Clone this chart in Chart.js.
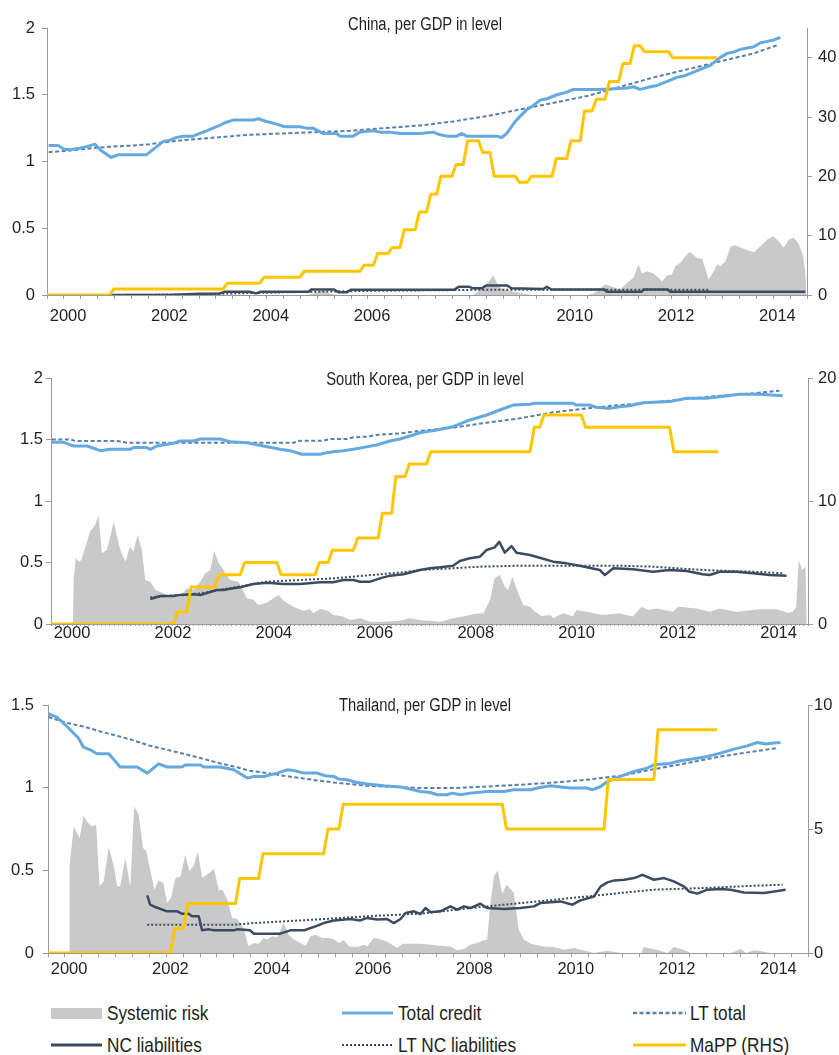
<!DOCTYPE html>
<html><head><meta charset="utf-8">
<script src="https://cdn.jsdelivr.net/npm/chart.js@4.4.0/dist/chart.umd.min.js"></script>
<style>
html,body{margin:0;padding:0;background:#fff;}
body{width:839px;height:1055px;position:relative;overflow:hidden;font-family:'Liberation Sans',Arial,sans-serif;color:#231f20;}
canvas{position:absolute;left:0;}
.title{position:absolute;left:425px;transform:translateX(-50%) scaleX(0.82);transform-origin:center center;font-size:18px;line-height:20px;white-space:nowrap;}
.lg{position:absolute;font-size:21px;line-height:24px;white-space:nowrap;transform:scaleX(0.82);transform-origin:left center;}
svg{position:absolute;left:0;}
</style></head><body>
<canvas id="c1" width="839" height="325" style="top:0px"></canvas>
<canvas id="c2" width="839" height="330" style="top:325px"></canvas>
<canvas id="c3" width="839" height="330" style="top:655px"></canvas>
<div class="title" style="top:14px">China, per GDP in level</div>
<div class="title" style="top:369px">South Korea, per GDP in level</div>
<div class="title" style="top:695px">Thailand, per GDP in level</div>
<svg width="839" height="60" style="top:995px">
  <rect x="51" y="13" width="51" height="11" fill="#C9C9C9"/>
  <line x1="342" y1="18" x2="393" y2="18" stroke="#64A9DF" stroke-width="3"/>
  <line x1="633" y1="18" x2="686" y2="18" stroke="#5B7FA6" stroke-width="2.5" stroke-dasharray="4 2.5"/>
  <line x1="51" y1="50" x2="102" y2="50" stroke="#3D4B60" stroke-width="3"/>
  <line x1="342" y1="50" x2="393" y2="50" stroke="#3D4B60" stroke-width="2" stroke-dasharray="2 2"/>
  <line x1="633" y1="50" x2="686" y2="50" stroke="#FFC600" stroke-width="3"/>
</svg>
<div class="lg" style="left:107px;top:1001px">Systemic risk</div>
<div class="lg" style="left:398px;top:1001px">Total credit</div>
<div class="lg" style="left:690px;top:1001px">LT total</div>
<div class="lg" style="left:107px;top:1033px">NC liabilities</div>
<div class="lg" style="left:398px;top:1033px">LT NC liabilities</div>
<div class="lg" style="left:690px;top:1033px">MaPP (RHS)</div>
<script>
// x values: months since January 2000; y values
const yearLabels = ['2000','2002','2004','2006','2008','2010','2012','2014'];

// ---------- China ----------
const cnCredit = [[-3.6,1.12],[-1.4,1.12],[0.2,1.09],[1.8,1.09],[3.7,1.10],[5.3,1.11],[7.3,1.13],[8.9,1.08],[11.2,1.03],[12.8,1.05],[19.5,1.05],[21.9,1.11],[23.5,1.15],[25.1,1.16],[26.7,1.18],[28.2,1.19],[30.6,1.19],[32.2,1.21],[33.8,1.23],[35.3,1.25],[36.9,1.27],[38.1,1.29],[40.1,1.31],[44.8,1.31],[46.0,1.32],[48.0,1.30],[50.4,1.28],[52.3,1.26],[55.9,1.26],[57.4,1.25],[59.0,1.25],[61.4,1.21],[64.6,1.21],[65.4,1.19],[68.5,1.19],[70.1,1.22],[73.3,1.23],[74.9,1.22],[77.2,1.22],[79.6,1.21],[84.4,1.21],[87.5,1.22],[89.1,1.20],[90.7,1.19],[93.1,1.19],[94.2,1.21],[95.4,1.19],[100.2,1.19],[102.5,1.19],[103.7,1.18],[104.9,1.21],[106.9,1.30],[108.1,1.34],[109.7,1.39],[111.2,1.42],[112.8,1.46],[114.4,1.47],[116.8,1.50],[119.1,1.52],[120.7,1.54],[127.0,1.54],[133.4,1.55],[134.9,1.56],[136.5,1.54],[138.9,1.56],[140.5,1.57],[142.9,1.60],[145.2,1.63],[146.8,1.64],[150.0,1.68],[153.1,1.72],[155.5,1.78],[157.1,1.81],[158.6,1.82],[160.2,1.84],[161.8,1.85],[163.4,1.86],[165.0,1.89],[166.6,1.90],[168.1,1.91],[169.7,1.93]];
const cnLTTotal = [[-3.6,1.07],[0.6,1.08],[6.9,1.10],[10.8,1.11],[16.4,1.12],[20.3,1.13],[28.2,1.16],[36.1,1.18],[44.0,1.20],[51.9,1.21],[59.9,1.22],[67.7,1.23],[75.6,1.25],[84.4,1.27],[92.2,1.30],[100.2,1.34],[108.1,1.39],[116.0,1.44],[123.9,1.49],[131.8,1.56],[139.7,1.63],[147.6,1.69],[155.5,1.75],[163.4,1.81],[169.3,1.875]];
const cnNC = [[11,0.0],[25,0.0],[32,0.01],[37,0.012],[38,0.024],[44,0.024],[45.5,0.012],[46.5,0.024],[58,0.024],[58.5,0.041],[64,0.041],[65,0.02],[67,0.02],[68,0.04],[92.5,0.04],[93.5,0.061],[96,0.061],[97,0.05],[99,0.05],[100,0.071],[105,0.071],[106,0.05],[113.5,0.045],[114.4,0.061],[115.5,0.041],[128,0.041],[128.6,0.024],[136.8,0.024],[137.3,0.041],[143,0.041],[143.6,0.024],[175.6,0.024]];
const cnLTNC = [[11,0.0],[30,0.005],[45,0.015],[60,0.025],[75,0.032],[90,0.036],[100,0.04],[152.6,0.04]];
const cnRisk = [[-4,0],[58,0],[60,0.02],[61.5,0.035],[63,0.01],[65,0],[97,0],[99.8,0.066],[101.7,0.146],[102.9,0.066],[104.1,0.04],[108.1,0.016],[110.4,0],[124,0],[125.4,0.01],[128.2,0.079],[131.8,0.041],[133.4,0.091],[134.9,0.129],[136.1,0.228],[136.9,0.161],[138.1,0.178],[139.7,0.161],[141.7,0.103],[142.9,0.146],[144.0,0.153],[144.8,0.216],[146.0,0.241],[147.6,0.303],[148.3,0.323],[150.0,0.275],[151.2,0.271],[152.7,0.116],[153.9,0.178],[154.7,0.228],[155.5,0.216],[156.7,0.253],[157.9,0.361],[159.0,0.373],[161.4,0.341],[163.4,0.32],[165.0,0.365],[166.6,0.415],[168.0,0.44],[169.3,0.403],[170.5,0.353],[171.7,0.415],[172.9,0.428],[174.1,0.378],[175.1,0.29],[175.6,0.166],[175.9,0]];
const cnMaPP = [[-4,0],[10.8,0],[11.8,1],[37.7,1],[38.7,2],[46.4,2],[47.4,3],[55.9,3],[56.9,4],[70.1,4],[71.1,5],[73.3,5],[74.3,7],[76.8,7],[77.8,8],[79.6,8],[80.6,11],[83.2,11],[84.2,14],[85.9,14],[86.9,17],[88.3,17],[89.3,20],[91.9,20],[92.9,22],[94.6,22],[95.6,26],[98.2,26],[99.2,24],[100.9,24],[101.9,20],[106.9,20],[107.9,19],[109.7,19],[110.7,20],[115.6,20],[116.6,23],[119.1,23],[120.1,26],[122.3,26],[123.3,31],[125.1,31],[126.1,33],[128.2,33],[129.2,36],[131.4,36],[132.4,39],[134.1,39],[135.1,42],[136.5,42],[137.5,41],[143.2,41],[144.2,40],[154.7,40]];

// ---------- South Korea ----------
const krCredit = [[-3.8,1.477],[-1.0,1.477],[1.4,1.447],[4.6,1.447],[7.7,1.409],[10.1,1.42],[14.8,1.42],[15.6,1.434],[18.8,1.434],[19.6,1.42],[21.2,1.447],[25.1,1.469],[26.7,1.488],[29.9,1.488],[31.5,1.504],[36.2,1.504],[38.6,1.482],[42.6,1.474],[46.5,1.447],[50.5,1.42],[52.9,1.409],[55.6,1.38],[60.0,1.38],[61.6,1.393],[63.1,1.401],[65.5,1.409],[67.9,1.42],[70.3,1.436],[73.4,1.455],[76.6,1.488],[79.0,1.504],[82.1,1.537],[83.7,1.555],[87.7,1.577],[91.6,1.604],[95.6,1.659],[99.6,1.699],[102.7,1.74],[105.9,1.78],[109.9,1.786],[111.0,1.794],[120.1,1.794],[120.9,1.78],[124.1,1.78],[125.7,1.762],[128.9,1.753],[131.2,1.767],[133.6,1.775],[136.8,1.799],[143.1,1.808],[147.1,1.835],[151.8,1.835],[155.0,1.848],[159.7,1.867],[164.5,1.867],[170.0,1.856]];
const krLTTotal = [[-3.8,1.50],[0.6,1.50],[1.8,1.488],[11.7,1.488],[14.1,1.474],[53.6,1.474],[55.2,1.49],[60.8,1.49],[62.3,1.504],[66.3,1.504],[67.9,1.518],[71.1,1.523],[73.4,1.537],[79.0,1.55],[83.7,1.57],[91.6,1.596],[99.6,1.637],[107.5,1.672],[115.4,1.721],[123.3,1.753],[131.2,1.78],[139.1,1.802],[147.1,1.829],[155.0,1.856],[162.9,1.875],[169.2,1.897]];
const krNC = [[19.6,0.203],[22.0,0.228],[25.1,0.228],[26.7,0.236],[29.9,0.241],[31.5,0.236],[35.4,0.276],[37.0,0.276],[38.6,0.287],[41.0,0.298],[44.1,0.325],[47.3,0.336],[51.3,0.325],[55.2,0.325],[60.0,0.339],[63.1,0.339],[65.5,0.358],[67.9,0.358],[69.5,0.344],[71.9,0.344],[74.2,0.371],[76.6,0.393],[79.8,0.404],[83.7,0.439],[86.1,0.453],[88.5,0.461],[91.6,0.474],[93.2,0.512],[95.6,0.534],[98.0,0.547],[99.6,0.602],[101.5,0.623],[102.6,0.669],[103.9,0.58],[105.5,0.634],[106.7,0.58],[109.9,0.561],[112.2,0.539],[115.4,0.507],[118.6,0.493],[121.7,0.474],[126.5,0.439],[127.7,0.398],[129.7,0.453],[134.4,0.445],[139.1,0.425],[143.1,0.439],[147.1,0.431],[151.0,0.404],[152.6,0.398],[155.0,0.425],[159.0,0.425],[162.9,0.412],[166.9,0.398],[170.9,0.393]];
const krLTNC = [[19.6,0.217],[31.5,0.249],[47.3,0.344],[63.1,0.371],[79.5,0.42],[83.7,0.439],[91.6,0.453],[98.0,0.466],[107.5,0.474],[131.2,0.474],[139.1,0.466],[151.0,0.439],[162.9,0.425],[170.0,0.412]];
const krRisk = [[1.2,0],[1.4,0.371],[1.9,0.534],[2.7,0.507],[3.2,0.52],[5.3,0.75],[6.5,0.805],[7.3,0.886],[8.1,0.575],[9.3,0.602],[10.9,0.832],[12.5,0.602],[13.7,0.507],[14.8,0.628],[15.6,0.589],[16.6,0.724],[17.6,0.602],[18.4,0.358],[19.6,0.344],[20.8,0.276],[22.8,0.249],[24.3,0.22],[26.7,0.22],[28.3,0.29],[29.9,0.276],[31.5,0.344],[32.7,0.412],[33.9,0.439],[34.8,0.596],[35.9,0.493],[37.0,0.439],[38.6,0.358],[40.6,0.344],[42.6,0.209],[44.1,0.2],[45.3,0.154],[47.3,0.173],[50.1,0.236],[51.3,0.19],[53.6,0.141],[56.0,0.108],[57.6,0.119],[58.4,0.087],[60.0,0.122],[61.9,0.108],[63.1,0.073],[65.5,0.06],[67.1,0.033],[69.5,0.046],[71.9,0.019],[75.0,0.019],[79.0,0.027],[81.3,0.046],[83.7,0.033],[88.5,0.019],[91.6,0.046],[94.0,0.06],[96.4,0.081],[98.8,0.087],[100.4,0.195],[101.5,0.371],[102.7,0.398],[103.9,0.303],[104.7,0.276],[105.7,0.385],[107.1,0.249],[108.3,0.154],[109.9,0.141],[111.1,0.1],[112.7,0.065],[114.7,0.073],[115.4,0.046],[117.8,0.087],[120.1,0.06],[120.9,0.114],[123.3,0.1],[127.3,0.073],[131.2,0.087],[134.4,0.06],[136.4,0.141],[138.0,0.114],[140.0,0.127],[143.9,0.1],[145.1,0.141],[149.5,0.127],[152.6,0.1],[155.0,0.127],[156.6,0.114],[159.0,0.1],[164.5,0.119],[168.5,0.119],[171.2,0.092],[172.4,0.1],[173.2,0.141],[173.8,0.52],[174.6,0.439],[175.4,0.466],[175.7,0]];
const krMaPP = [[-4,0],[25.1,0],[26.1,1],[28.3,1],[29.3,3],[35.0,3],[36.0,4],[41.0,4],[42.0,5],[49.7,5],[50.7,4],[58.8,4],[59.8,5],[61.9,5],[62.9,6],[67.9,6],[68.9,7],[73.8,7],[74.8,9],[77.0,9],[78.0,12],[80.2,12],[81.2,13],[85.3,13],[86.3,14],[109.9,14],[110.9,16],[112.2,16],[113.2,17],[122.1,17],[123.1,16],[143.1,16],[144.1,14],[154.6,14]];

// ---------- Thailand ----------
const thCredit = [[-3.9,1.447],[-1.9,1.427],[0.5,1.37],[3.2,1.30],[4.4,1.245],[6.0,1.229],[7.6,1.205],[10.4,1.205],[13.1,1.125],[17.1,1.125],[19.5,1.088],[22.2,1.144],[24.2,1.125],[27.7,1.125],[28.5,1.137],[32.1,1.137],[32.9,1.125],[36.8,1.125],[40.0,1.108],[43.2,1.058],[44.7,1.068],[47.1,1.068],[50.3,1.088],[52.6,1.108],[54.2,1.104],[56.6,1.088],[59.7,1.088],[61.7,1.072],[63.7,1.068],[64.9,1.052],[66.8,1.048],[69.2,1.031],[71.6,1.022],[75.5,1.011],[79.5,1.004],[81.8,0.992],[84.2,0.977],[86.6,0.971],[88.2,0.957],[90.5,0.957],[91.7,0.967],[93.7,0.957],[96.0,0.967],[100.0,0.977],[104.0,0.977],[106.3,0.987],[110.3,0.987],[111.9,0.998],[115.0,1.011],[117.4,1.004],[119.8,0.998],[123.7,0.998],[124.9,0.987],[126.9,1.007],[128.5,1.038],[131.6,1.068],[134.8,1.098],[137.9,1.118],[139.5,1.138],[142.7,1.144],[145.8,1.163],[149.0,1.175],[152.2,1.189],[155.3,1.209],[158.5,1.233],[161.6,1.253],[164.0,1.273],[166.0,1.264],[168.0,1.27],[169.5,1.273]];
const thLTTotal = [[-3.9,1.427],[0.5,1.391],[4.4,1.37],[8.4,1.34],[12.3,1.314],[16.3,1.286],[20.2,1.253],[24.2,1.229],[28.1,1.205],[32.1,1.179],[36.0,1.152],[40.0,1.128],[43.9,1.102],[47.9,1.088],[51.8,1.072],[55.8,1.058],[59.7,1.044],[63.7,1.031],[67.6,1.022],[71.6,1.011],[75.5,1.007],[79.5,1.004],[84.2,0.998],[92.1,0.998],[100.0,1.007],[107.9,1.018],[115.8,1.031],[123.7,1.048],[131.6,1.072],[139.5,1.112],[147.4,1.149],[155.3,1.189],[163.2,1.219],[168.7,1.239]];
const thNC = [[19.5,0.348],[20.2,0.292],[21.4,0.278],[24.2,0.252],[26.6,0.252],[27.7,0.238],[29.3,0.238],[30.1,0.222],[31.7,0.222],[32.5,0.137],[34.1,0.143],[35.3,0.137],[40.0,0.137],[40.8,0.143],[43.9,0.137],[44.7,0.117],[51.0,0.117],[53.4,0.137],[56.6,0.137],[58.9,0.157],[61.3,0.181],[63.7,0.197],[67.6,0.206],[70.0,0.197],[71.6,0.212],[74.0,0.202],[76.3,0.206],[77.9,0.181],[79.5,0.206],[80.7,0.242],[82.7,0.252],[84.2,0.235],[85.4,0.272],[86.6,0.246],[88.9,0.252],[91.3,0.282],[92.9,0.262],[94.5,0.282],[96.0,0.272],[98.4,0.298],[100.0,0.272],[104.0,0.266],[107.9,0.272],[111.1,0.282],[112.6,0.302],[117.4,0.312],[120.2,0.292],[122.1,0.318],[125.3,0.342],[126.9,0.403],[128.5,0.427],[130.1,0.439],[132.5,0.443],[134.8,0.453],[136.8,0.473],[139.5,0.443],[141.9,0.453],[144.2,0.433],[146.6,0.403],[147.8,0.372],[149.8,0.359],[152.2,0.383],[155.3,0.387],[157.7,0.383],[160.8,0.366],[165.6,0.363],[168.0,0.372],[170.7,0.383]];
const thLTNC = [[19.5,0.171],[40.0,0.171],[44.7,0.181],[55.8,0.197],[71.6,0.222],[84.2,0.238],[100.0,0.282],[111.9,0.312],[123.7,0.342],[131.6,0.363],[139.5,0.383],[151.4,0.393],[163.2,0.407],[170.0,0.413]];
const thRisk = [[1.0,0],[1.1,0.524],[2.1,0.765],[3.5,0.695],[4.4,0.83],[5.4,0.79],[6.4,0.765],[7.4,0.775],[8.2,0.403],[9.2,0.433],[10.4,0.641],[11.6,0.524],[12.4,0.403],[13.1,0.403],[14.3,0.574],[15.5,0.403],[16.4,0.886],[17.5,0.836],[18.5,0.635],[19.3,0.615],[20.2,0.504],[21.2,0.383],[22.2,0.439],[23.3,0.423],[24.2,0.302],[25.1,0.332],[26.2,0.453],[27.4,0.463],[28.5,0.594],[29.5,0.494],[30.5,0.528],[31.5,0.615],[32.5,0.453],[34.1,0.483],[35.3,0.51],[36.5,0.377],[37.3,0.383],[38.5,0.322],[39.6,0.212],[40.8,0.206],[42.3,0.153],[43.5,0.04],[44.7,0.06],[45.9,0.056],[47.1,0.091],[47.9,0.081],[49.1,0.101],[50.3,0.097],[51.8,0.181],[53.0,0.111],[54.2,0.081],[55.8,0.06],[57.0,0.044],[58.2,0.101],[59.4,0.111],[61.0,0.091],[62.6,0.091],[63.7,0.081],[64.9,0.06],[66.1,0.077],[67.3,0.04],[69.2,0.036],[70.8,0.05],[71.6,0.04],[73.2,0.091],[74.7,0.081],[76.3,0.07],[77.5,0.05],[78.7,0.03],[79.9,0.056],[84.2,0.056],[88.9,0.044],[91.3,0.04],[92.9,0.016],[94.5,0.024],[96.0,0.05],[97.6,0.06],[99.2,0.077],[100.0,0.081],[100.8,0.302],[101.6,0.463],[102.5,0.499],[103.6,0.359],[104.6,0.413],[106.3,0.366],[107.5,0.141],[108.7,0.081],[110.3,0.056],[113.4,0.04],[115.8,0.036],[118.2,0.02],[120.5,0.03],[123.7,0.01],[125.3,0],[128.5,0.014],[131.6,0],[136.5,0],[137.1,0.036],[139.5,0.024],[142.7,0],[144.2,0.036],[146.6,0.02],[148.2,0],[157.7,0],[160.1,0.024],[161.3,0],[163.2,0.016],[165.0,0.01],[167,0]];
const thMaPP = [[-4,0],[25.0,0],[26.0,1],[28.1,1],[29.1,2],[40.4,2],[41.4,3],[45.9,3],[46.9,4],[61.3,4],[62.3,5],[64.9,5],[65.9,6],[103.6,6],[104.6,5],[127.7,5],[128.7,7],[139.5,7],[140.5,9],[154.5,9]];

const FONT = "'Liberation Sans',Arial,sans-serif";
const FS = 16.5;
const TXT = '#231f20', AX = '#9a9a9a', NONE = 'rgba(0,0,0,0)';
const C_RISK = '#C9C9C9', C_CREDIT = '#64A9DF', C_LT = '#5B7FA6', C_NC = '#3D4B60', C_MAPP = '#FFC600';

function pts(a){ return a.map(p => ({x:p[0], y:p[1]})); }

function build(id, o){
  const allMonths = []; for (let t = -4; t <= 176; t++) allMonths.push(t);
  const line = (label, arr, color, w, dash, axis, order, extra) => Object.assign({
    label, data: pts(arr), borderColor: color, borderWidth: w, borderDash: dash,
    yAxisID: axis, order, fill: false, pointRadius: 0, tension: 0, borderCapStyle: 'butt', borderJoinStyle: 'round'
  }, extra || {});
  return new Chart(document.getElementById(id), {
    type: 'line',
    data: { datasets: [
      line('Systemic risk', o.risk, C_RISK, 0, [], 'y', 6, {fill: 'origin', backgroundColor: C_RISK}),
      line('LT NC liabilities', o.ltnc, C_NC, 2, [2, 2], 'y', 5),
      line('NC liabilities', o.nc, C_NC, 2.5, [], 'y', 4),
      line('LT total', o.ltt, C_LT, 2, [4, 2.5], 'y', 3),
      line('Total credit', o.credit, C_CREDIT, 3, [], 'y', 2),
      line('MaPP (RHS)', o.mapp, C_MAPP, 3, [], 'y1', 1)
    ]},
    options: {
      responsive: false, animation: false, devicePixelRatio: 1,
      layout: { padding: { top: o.top, left: 0, right: 0, bottom: 0 } },
      plugins: { legend: { display: false }, tooltip: { enabled: false } },
      scales: {
        x: {
          type: 'linear', min: -4, max: 176,
          afterBuildTicks: s => { s.ticks = allMonths.map(v => ({value: v})); },
          afterFit: s => { s.height = o.xh; },
          ticks: { autoSkip: false, maxRotation: 0, minRotation: 0, padding: o.xpad,
            font: { family: FONT, size: FS }, color: TXT,
            callback: v => ((v - 1) % 24 === 0 ? yearLabels[(v - 1) / 24] : '') },
          grid: { drawOnChartArea: false, drawTicks: true, tickLength: o.xtick, color: NONE,
            tickColor: c => (c.tick && (c.tick.value % o.mark) === 0) ? AX : NONE },
          border: { display: true, color: AX, width: 1 }
        },
        y: {
          position: 'left', min: 0, max: o.ymax,
          afterBuildTicks: s => { s.ticks = o.yticks.map(v => ({value: v})); },
          afterFit: s => { s.width = o.lw; },
          ticks: { padding: o.lpad, font: { family: FONT, size: FS }, color: TXT, callback: v => String(v) },
          grid: { drawOnChartArea: false, drawTicks: true, tickLength: 5, color: AX, tickColor: AX },
          border: { display: true, color: AX, width: 1 }
        },
        y1: {
          position: 'right', min: 0, max: o.y1max,
          afterBuildTicks: s => { s.ticks = o.y1ticks.map(v => ({value: v})); },
          afterFit: s => { s.width = o.rw; },
          ticks: { padding: o.rpad, font: { family: FONT, size: FS }, color: TXT, callback: v => String(v) },
          grid: { drawOnChartArea: false, drawTicks: true, tickLength: 5, color: AX, tickColor: AX },
          border: { display: true, color: AX, width: 1 }
        }
      }
    }
  });
}

build('c1', { top: 28, xh: 30, xpad: 7.5, xtick: 4, mark: 4, lw: 47, rw: 32, lpad: 7, rpad: 6,
  ymax: 2, yticks: [0, 0.5, 1, 1.5, 2], y1max: 45, y1ticks: [0, 10, 20, 30, 40],
  risk: cnRisk, ltnc: cnLTNC, nc: cnNC, ltt: cnLTTotal, credit: cnCredit, mapp: cnMaPP });
build('c2', { top: 53, xh: 31, xpad: -2, xtick: 2, mark: 1, lw: 51, rw: 31, lpad: 3, rpad: 5,
  ymax: 2, yticks: [0, 0.5, 1, 1.5, 2], y1max: 20, y1ticks: [0, 10, 20],
  risk: krRisk, ltnc: krLTNC, nc: krNC, ltt: krLTTotal, credit: krCredit, mapp: krMaPP });
build('c3', { top: 50, xh: 32, xpad: 3, xtick: 4, mark: 4, lw: 48, rw: 31, lpad: 9, rpad: 1,
  ymax: 1.5, yticks: [0, 0.5, 1, 1.5], y1max: 10, y1ticks: [0, 5, 10],
  risk: thRisk, ltnc: thLTNC, nc: thNC, ltt: thLTTotal, credit: thCredit, mapp: thMaPP });
</script>
</body></html>
